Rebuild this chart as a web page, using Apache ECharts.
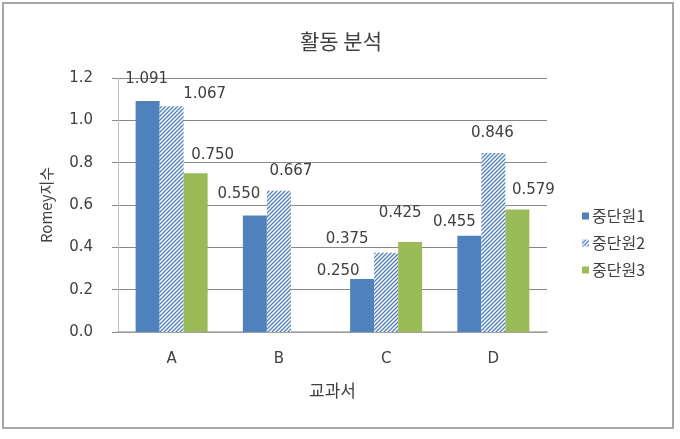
<!DOCTYPE html>
<html>
<head>
<meta charset="utf-8">
<script src="https://cdn.jsdelivr.net/npm/echarts@6/dist/echarts.min.js"></script>
<style>
html, body { margin: 0; padding: 0; background: #fff; }
#chart { width: 680px; height: 439px; }
</style>
</head>
<body>
<div id="chart"></div>
<script>
var categories = ['A', 'B', 'C', 'D'];
var seriesNames = ['중단원1', '중단원2', '중단원3'];
var unit1 = [1.091, 0.550, 0.250, 0.455];
var unit2 = [1.067, 0.667, 0.375, 0.846];
var unit3 = [0.750, null, 0.425, 0.579];
var yTicks = [0, 0.2, 0.4, 0.6, 0.8, 1.0, 1.2];

// labels were dragged around by hand in the original, so nudge them
var labelShift1 = [[-1, -9], [-16, -9], [-24, 5], [-15, -1]];
var labelShift2 = [[33, 0], [12, -7], [-39, -1], [-1, -7]];
var labelShift3 = [[17, -6], [0, 0], [-10, -16], [16, -7]];

var numFont = 'DejaVu Sans';
var krFont = '"Noto Sans CJK KR", "DejaVu Sans", sans-serif';

function hatch() {
	var c = document.createElement('canvas');
	c.width = 4; c.height = 4;
	var ctx = c.getContext('2d');
	ctx.fillStyle = '#ffffff';
	ctx.fillRect(0, 0, 4, 4);
	ctx.strokeStyle = '#4f81bd';
	ctx.lineWidth = 1.3;
	ctx.beginPath();
	ctx.moveTo(-1, 5); ctx.lineTo(5, -1);
	ctx.moveTo(-1, 1); ctx.lineTo(1, -1);
	ctx.moveTo(3, 5); ctx.lineTo(5, 3);
	ctx.stroke();
	return c;
}

function withLabels(vals, shifts) {
	var out = [];
	for (var i = 0; i < vals.length; i++) {
		out.push({ value: vals[i], label: { offset: shifts[i] } });
	}
	return out;
}

var labelStyle = {
	show: true,
	position: 'top',
	distance: 5,
	fontFamily: numFont,
	fontSize: 15,
	color: '#404040',
	formatter: function (p) { return p.value == null ? '' : p.value.toFixed(3); }
};

var chart = echarts.init(document.getElementById('chart'));
chart.setOption({
	animation: false,
	title: {
		text: '활동 분석',
		left: 336,
		top: 26,
		textAlign: 'center',
		textStyle: { fontFamily: krFont, fontSize: 21, fontWeight: 'normal', color: '#404040' }
	},
	legend: {
		orient: 'vertical',
		left: 577,
		top: 203,
		itemWidth: 7,
		itemHeight: 7,
		itemGap: 11,
		icon: 'rect',
		data: seriesNames,
		textStyle: { fontFamily: krFont, fontSize: 16, color: '#404040', padding: [0, 0, 0, -2] }
	},
	graphic: [{
		type: 'rect',
		shape: { x: 3, y: 3, width: 670, height: 425 },
		style: { fill: 'none', stroke: '#a6a6a6', lineWidth: 2 },
		silent: true
	}],
	grid: { left: 118, right: 133, top: 78, bottom: 107 },
	xAxis: {
		type: 'category',
		data: categories,
		name: '교과서',
		nameLocation: 'middle',
		nameGap: 50,
		nameTextStyle: { fontFamily: krFont, fontSize: 17, color: '#404040' },
		axisLine: { lineStyle: { color: '#a6a6a6', width: 1.5 } },
		axisTick: { show: false },
		axisLabel: { fontFamily: numFont, fontSize: 15, color: '#404040', margin: 20 }
	},
	yAxis: {
		type: 'value',
		min: yTicks[0],
		max: yTicks[yTicks.length - 1],
		interval: 0.2,
		name: 'Romey지수',
		nameLocation: 'middle',
		nameGap: 64,
		nameTextStyle: { fontFamily: krFont, fontSize: 15, color: '#404040' },
		axisLine: { show: true, lineStyle: { color: '#bfbfbf' } },
		axisTick: { show: true, length: 6, lineStyle: { color: '#888888' } },
		splitLine: { lineStyle: { color: '#888888' } },
		axisLabel: {
			fontFamily: numFont, fontSize: 15, color: '#404040', margin: 25,
			formatter: function (v) { return v.toFixed(1); }
		}
	},
	series: [
		{
			name: seriesNames[0], type: 'bar', barWidth: 24, barGap: '0%',
			itemStyle: { color: '#4f81bd' },
			label: labelStyle,
			data: withLabels(unit1, labelShift1)
		},
		{
			name: seriesNames[1], type: 'bar', barWidth: 24, barGap: '0%',
			itemStyle: { color: { image: hatch(), repeat: 'repeat' } },
			label: labelStyle,
			data: withLabels(unit2, labelShift2)
		},
		{
			name: seriesNames[2], type: 'bar', barWidth: 24, barGap: '0%',
			itemStyle: { color: '#9bbb59' },
			label: labelStyle,
			data: withLabels(unit3, labelShift3)
		}
	]
});
</script>
</body>
</html>
